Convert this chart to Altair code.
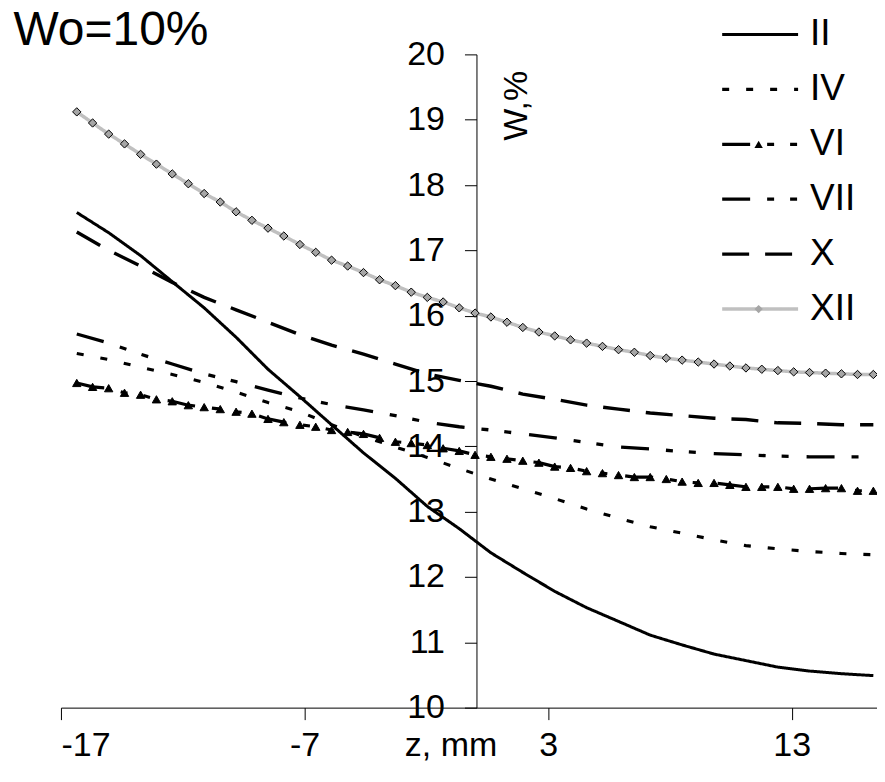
import altair as alt
import pandas as pd

# ---------------- data ----------------
z_full = [-16.35, -15.70, -15.04, -14.39, -13.73, -13.08, -12.43, -11.77, -11.12, -10.46,
          -9.81, -9.16, -8.50, -7.85, -7.19, -6.54, -5.89, -5.23, -4.58, -3.92,
          -3.27, -2.62, -1.96, -1.31, -0.65, 0.00, 0.65, 1.31, 1.96, 2.62,
          3.27, 3.92, 4.58, 5.23, 5.89, 6.54, 7.19, 7.85, 8.50, 9.16,
          9.81, 10.46, 11.12, 11.77, 12.43, 13.08, 13.73, 14.39, 15.04, 15.70, 16.35]
z_half = z_full[::2]

w_II = [17.58, 17.27, 16.92, 16.52, 16.12, 15.67, 15.18, 14.76, 14.33, 13.90,
        13.51, 13.08, 12.74, 12.37, 12.07, 11.78, 11.53, 11.32, 11.11, 10.96,
        10.82, 10.72, 10.62, 10.56, 10.52, 10.49]
w_IV = [15.42, 15.33, 15.21, 15.10, 14.98, 14.83, 14.67, 14.53, 14.33, 14.15,
        13.99, 13.83, 13.66, 13.50, 13.35, 13.20, 13.04, 12.90, 12.77, 12.67,
        12.57, 12.48, 12.43, 12.39, 12.36, 12.34]
w_VII = [15.72, 15.58, 15.41, 15.26, 15.11, 14.99, 14.86, 14.74, 14.64, 14.56,
         14.47, 14.37, 14.30, 14.25, 14.19, 14.13, 14.06, 13.99, 13.96, 13.92,
         13.89, 13.87, 13.85, 13.84, 13.84, 13.84]
w_X = [17.28, 17.00, 16.76, 16.51, 16.28, 16.09, 15.90, 15.71, 15.55, 15.41,
       15.26, 15.11, 15.01, 14.92, 14.80, 14.72, 14.63, 14.57, 14.51, 14.47,
       14.43, 14.41, 14.36, 14.35, 14.33, 14.33]
w_VI = [14.97, 14.91, 14.89, 14.82, 14.79, 14.72, 14.69, 14.63, 14.60, 14.57,
        14.53, 14.50, 14.42, 14.37, 14.33, 14.30, 14.25, 14.22, 14.19, 14.13,
        14.07, 14.05, 14.02, 13.97, 13.93, 13.87, 13.84, 13.81, 13.78, 13.75,
        13.69, 13.67, 13.62, 13.59, 13.56, 13.53, 13.53, 13.50, 13.46, 13.44,
        13.44, 13.41, 13.38, 13.38, 13.38, 13.35, 13.35, 13.36, 13.36, 13.32, 13.32]
w_XII = [19.12, 18.95, 18.78, 18.63, 18.47, 18.32, 18.17, 18.02, 17.87, 17.74,
         17.59, 17.46, 17.34, 17.22, 17.09, 16.97, 16.85, 16.76, 16.66, 16.55,
         16.46, 16.36, 16.28, 16.21, 16.12, 16.04, 15.98, 15.90, 15.82, 15.75,
         15.69, 15.63, 15.58, 15.53, 15.48, 15.44, 15.39, 15.35, 15.32, 15.29,
         15.26, 15.23, 15.20, 15.18, 15.16, 15.14, 15.13, 15.12, 15.11, 15.10, 15.10]

series_order = ["II", "IV", "VI", "VII", "X", "XII"]
marker_series = ["VI", "XII"]
x_ticks = [-17, -7, 3, 13]
y_ticks = [10, 11, 12, 13, 14, 15, 16, 17, 18, 19, 20]

# ---------------- tables ----------------
rows = []
for name, zs, ws in [("II", z_half, w_II), ("IV", z_half, w_IV), ("VI", z_full, w_VI),
                     ("VII", z_half, w_VII), ("X", z_half, w_X), ("XII", z_full, w_XII)]:
    for z, w in zip(zs, ws):
        rows.append({"series": name, "z": z, "w": w})
df_lines = pd.DataFrame(rows)
df_pts = df_lines[df_lines["series"].isin(marker_series)].copy()
# separate key for the marker legend so it is not merged with the line legend
df_pts["marker"] = df_pts["series"] + " "
marker_domain = [s + " " for s in series_order]

FONT = "Liberation Sans"
EMPTY = "M0,0"

colors = ["black", "black", "black", "black", "black", "#c0c0c0"]
dashes = [[1, 0], [7, 17], [28, 17, 7, 16, 7, 18], [28, 17, 7, 16, 7, 18], [27, 16], [1, 0]]
widths = [3, 3.5, 2.5, 3.5, 3.5, 5.5]
shapes = [EMPTY, EMPTY, "triangle-up", EMPTY, EMPTY, "diamond"]
fills = ["black", "black", "black", "black", "black", "#a6a6a6"]

x_enc = alt.X("z:Q", scale=alt.Scale(domain=[-17, 16.5], nice=False, zero=False),
              axis=alt.Axis(values=x_ticks, grid=False, title="z, mm",
                            labelExpr="datum.value < 0 ? '-' + abs(datum.value) : '' + datum.value",
                            labelFontSize=34, labelFont=FONT, labelColor="black",
                            labelBaseline="middle", labelPadding=26,
                            tickSize=12, tickColor="black", domainColor="black",
                            titleFont=FONT, titleFontSize=34, titleFontWeight="normal",
                            titleColor="black", titleX=390, titleY=38,
                            titleAlign="center", titleBaseline="middle"))
y_enc = alt.Y("w:Q", scale=alt.Scale(domain=[10, 20], nice=False, zero=False),
              axis=alt.Axis(values=y_ticks, grid=False, title="W,%", offset=-416,
                            labelExpr="'' + datum.value",
                            labelFontSize=34, labelFont=FONT, labelColor="black",
                            labelPadding=20, tickSize=12, tickColor="black",
                            domainColor="black",
                            titleFont=FONT, titleFontSize=34, titleFontWeight="normal",
                            titleColor="black", titleAngle=-90, titleX=40, titleY=51,
                            titleAlign="center", titleBaseline="middle"))

line_legend = alt.Legend(title=None, orient="none", legendX=660, legendY=-38,
                         symbolType="stroke", symbolSize=5776, clipHeight=36,
                         rowPadding=18, labelOffset=10, labelFontSize=37, labelFont=FONT,
                         labelColor="black", padding=0)

marker_legend = alt.Legend(title=None, orient="none", legendX=660, legendY=-38,
                           symbolSize=70, clipHeight=36, symbolOffset=20,
                           symbolStrokeColor="black", symbolStrokeWidth=1,
                           rowPadding=18, labelOffset=0, labelFontSize=37,
                           labelExpr="''", padding=0)

lines = alt.Chart(df_lines).mark_line(strokeCap="butt").encode(
    x=x_enc,
    y=y_enc,
    color=alt.Color("series:N", scale=alt.Scale(domain=series_order, range=colors), legend=line_legend),
    strokeDash=alt.StrokeDash("series:N", scale=alt.Scale(domain=series_order, range=dashes), legend=line_legend),
    strokeWidth=alt.StrokeWidth("series:N", scale=alt.Scale(domain=series_order, range=widths), legend=line_legend),
)

points = alt.Chart(df_pts).mark_point(filled=True, stroke="black", strokeWidth=1, opacity=1, size=70).encode(
    x=alt.X("z:Q"),
    y=alt.Y("w:Q"),
    shape=alt.Shape("marker:N", scale=alt.Scale(domain=marker_domain, range=shapes), legend=marker_legend),
    fill=alt.Fill("marker:N", scale=alt.Scale(domain=marker_domain, range=fills), legend=marker_legend),
)

chart = alt.layer(lines, points).properties(
    width=817, height=654,
    autosize=alt.AutoSizeParams(type="none"),
    padding={"left": 53, "top": 46, "right": 0, "bottom": 70},
    title=alt.TitleParams("Wo=10%", anchor="start", fontSize=48, font=FONT,
                          fontWeight="normal", color="black", dx=-47, dy=43),
).configure(background="white").configure_view(stroke=None)

chart.save("out.html", embed_options={"renderer": "svg", "actions": False})
